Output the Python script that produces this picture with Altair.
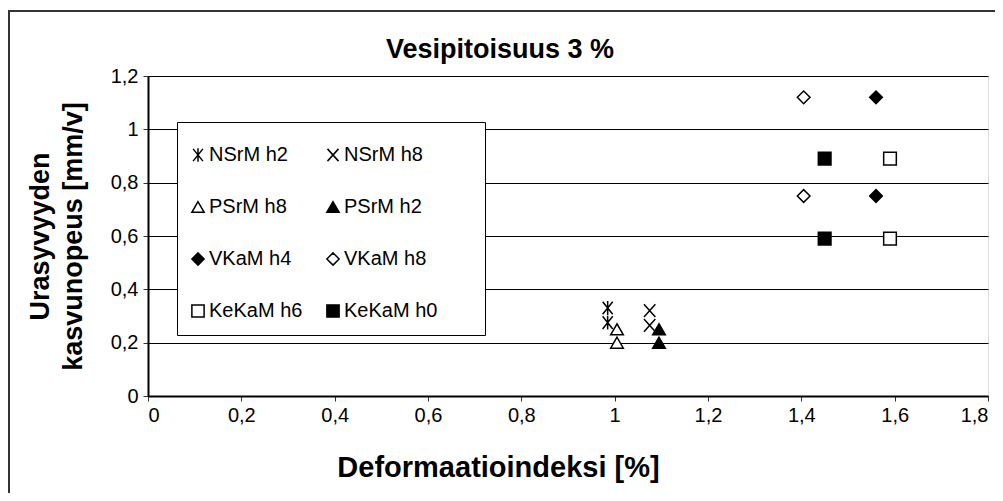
import altair as alt
import pandas as pd

series = ["NSrM h2", "NSrM h8", "PSrM h8", "PSrM h2",
          "VKaM h4", "VKaM h8", "KeKaM h6", "KeKaM h0"]
x_vals = {
    "NSrM h2": [0.985, 0.985],
    "NSrM h8": [1.075, 1.075],
    "PSrM h8": [1.005, 1.005],
    "PSrM h2": [1.095, 1.095],
    "VKaM h4": [1.56, 1.56],
    "VKaM h8": [1.405, 1.405],
    "KeKaM h6": [1.59, 1.59],
    "KeKaM h0": [1.45, 1.45],
}
y_vals = {
    "NSrM h2": [0.33, 0.275],
    "NSrM h8": [0.32, 0.265],
    "PSrM h8": [0.25, 0.20],
    "PSrM h2": [0.25, 0.20],
    "VKaM h4": [1.12, 0.75],
    "VKaM h8": [1.12, 0.75],
    "KeKaM h6": [0.89, 0.59],
    "KeKaM h0": [0.89, 0.59],
}
title_text = "Vesipitoisuus 3 %"
x_title = "Deformaatioindeksi [%]"
y_title = ["Urasyvyyden", "kasvunopeus [mm/v]"]
x_ticks = [0, 0.2, 0.4, 0.6, 0.8, 1.0, 1.2, 1.4, 1.6, 1.8]
y_ticks = [0, 0.2, 0.4, 0.6, 0.8, 1.0, 1.2]

ASTERISK = "M-0.8,-1L0.8,1M-0.8,1L0.8,-1M0,-1.1L0,1.1"
XMARK = "M-0.9,-1L0.9,1M-0.9,1L0.9,-1"
shapes = [ASTERISK, XMARK, "triangle-up", "triangle-up",
          "diamond", "diamond", "square", "square"]
fills = ["transparent", "transparent", "white", "black",
         "black", "white", "white", "black"]
strokes = ["black"] * 8

rows = []
for s in series:
    for xv, yv in zip(x_vals[s], y_vals[s]):
        rows.append({"series": s, "x": xv, "y": yv})
df = pd.DataFrame(rows)

FONT = "Liberation Sans"
one = pd.DataFrame({"a": [0]})

outer = alt.Chart(one).mark_rect(
    fill="transparent", stroke="#333333", strokeWidth=2, clip=False
).encode(
    x=alt.value(-139), x2=alt.value(900),
    y=alt.value(-65), y2=alt.value(500),
)

legend_box = alt.Chart(one).mark_rect(
    fill="white", stroke="black", strokeWidth=1
).encode(
    x=alt.value(29.5), x2=alt.value(337.5),
    y=alt.value(46.5), y2=alt.value(259.5),
)

title = alt.Chart(one).mark_text(
    text=title_text, font=FONT, fontSize=27, fontWeight="bold",
    color="black", align="center", baseline="alphabetic"
).encode(x=alt.value(352), y=alt.value(-18))

legend = alt.Legend(
    title=None, orient="none", legendX=40, legendY=69, columns=2,
    direction="horizontal",
    labelFontSize=20, labelFont=FONT, labelColor="black",
    symbolStrokeWidth=1.5, symbolSize=150,
    padding=0, rowPadding=32, columnPadding=20, labelOffset=1,
)

points = alt.Chart(df).mark_point(
    filled=False, strokeWidth=1.5, size=160, opacity=1
).encode(
    x=alt.X("x:Q", scale=alt.Scale(domain=[0, 1.8], nice=False),
            axis=alt.Axis(
                values=x_ticks,
                format=".1~f", labelExpr="replace(datum.label, '.', ',')",
                grid=False, title=x_title,
                titleX=350, titleY=80, titleBaseline="alphabetic",
                titleFontSize=29, titleFont=FONT,
                titleFontWeight="bold", titleColor="black",
                labelFontSize=20, labelFont=FONT, labelColor="black",
                labelPadding=4, tickSize=5, tickColor="#333333",
                domainColor="black", domainWidth=2,
            )),
    y=alt.Y("y:Q", scale=alt.Scale(domain=[0, 1.2], nice=False),
            axis=alt.Axis(
                values=y_ticks,
                format=".1~f", labelExpr="replace(datum.label, '.', ',')",
                grid=True, gridColor="black", gridWidth=1,
                title=y_title,
                titleX=-108, titleY=160, titleAngle=-90, titleAlign="center",
                titleBaseline="middle", titleLineHeight=33,
                titleFontSize=27, titleFont=FONT,
                titleFontWeight="bold", titleColor="black",
                labelFontSize=20, labelFont=FONT, labelColor="black",
                labelPadding=5, tickSize=5, tickColor="#333333",
                domainColor="black", domainWidth=2,
            )),
    shape=alt.Shape("series:N", scale=alt.Scale(domain=series, range=shapes),
                    legend=legend),
    fill=alt.Fill("series:N", scale=alt.Scale(domain=series, range=fills),
                  legend=legend),
    stroke=alt.Stroke("series:N", scale=alt.Scale(domain=series, range=strokes),
                      legend=legend),
)

chart = alt.layer(outer, legend_box, title, points).properties(
    width=840, height=320,
    autosize=alt.AutoSizeParams(type="none"),
    padding={"left": 140, "top": 68, "right": 7, "bottom": 97},
).configure_view(stroke="black", strokeWidth=2).configure(background="white")

chart.save("out.html", embed_options={"renderer": "svg", "actions": False})
